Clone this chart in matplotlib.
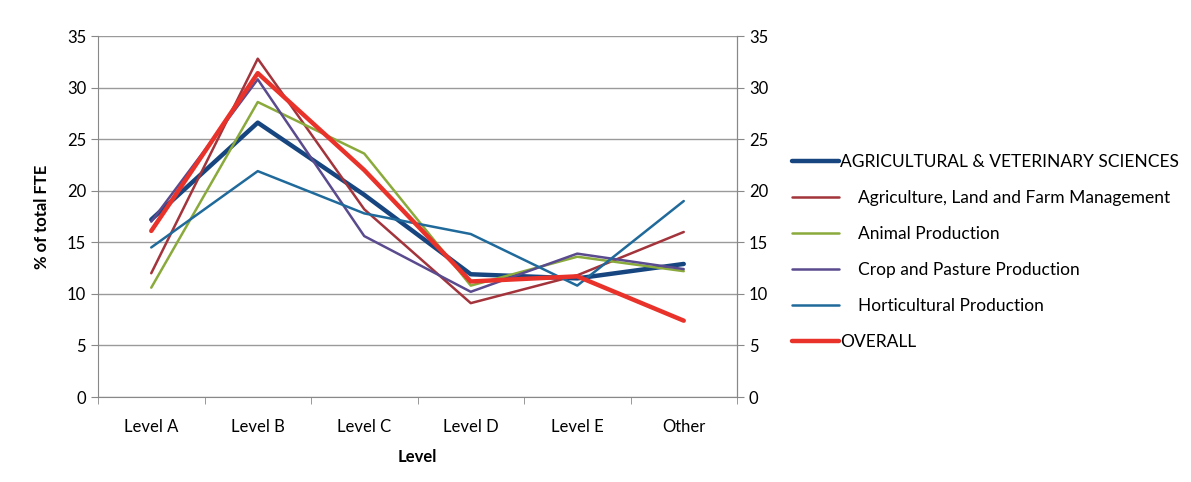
import matplotlib
matplotlib.use('Agg')
import matplotlib.pyplot as plt
import numpy as np

levels = ['Level A', 'Level B', 'Level C', 'Level D', 'Level E', 'Other']

ag_vet = [17.2, 26.6, 19.6, 11.9, 11.5, 12.9]
agri_land = [12.0, 32.8, 18.2, 9.1, 11.8, 16.0]
animal = [10.6, 28.6, 23.6, 10.8, 13.6, 12.2]
crop = [17.0, 30.8, 15.6, 10.2, 13.9, 12.4]
horti = [14.5, 21.9, 17.8, 15.8, 10.8, 19.0]
overall = [16.1, 31.4, 22.0, 11.2, 11.7, 7.4]

series_names = ['AGRICULTURAL & VETERINARY SCIENCES',
                '    Agriculture, Land and Farm Management',
                '    Animal Production',
                '    Crop and Pasture Production',
                '    Horticultural Production',
                'OVERALL']

plt.rcParams['font.family'] = ['Lato', 'DejaVu Sans']

fig = plt.figure(figsize=(11.91, 4.82), dpi=100)
ax = fig.add_axes([98 / 1191, 1 - 397 / 482, (737 - 98) / 1191, (397 - 36) / 482])

x = np.arange(len(levels))
styles = [('#17457f', 3.2), ('#a3343b', 1.8), ('#8aaa3c', 1.8),
          ('#5a4a8e', 1.8), ('#1f6a9b', 1.8), ('#e8322a', 3.2)]
data = [ag_vet, agri_land, animal, crop, horti, overall]
lines = []
for vals, (col, lw), name in zip(data, styles, series_names):
    ln, = ax.plot(x, vals, color=col, lw=lw, label=name, solid_capstyle='round')
    lines.append(ln)

ax.set_xlim(-0.5, len(levels) - 0.5)
ax.set_ylim(0, 35)
ax.set_yticks(range(0, 36, 5))
ax.set_xticks(x)
ax.set_xticklabels(levels, fontsize=12)
ax.set_xticks(np.arange(-0.5, len(levels), 1), minor=True)
ax.tick_params(axis='x', which='major', length=0, pad=16)
ax.tick_params(axis='x', which='minor', length=5, color='#888888')
ax.tick_params(axis='y', length=5, color='#888888', labelsize=12)
ax.grid(axis='y', color='#9a9a9a', lw=1)
ax.set_axisbelow(True)
for s in ['top']:
    ax.spines[s].set_visible(False)
for s in ['left', 'right', 'bottom']:
    ax.spines[s].set_color('#888888')

ax2 = ax.twinx()
ax2.set_ylim(0, 35)
ax2.set_yticks(range(0, 36, 5))
ax2.tick_params(axis='y', length=5, color='#888888', labelsize=12)
for s in ['top', 'left', 'bottom']:
    ax2.spines[s].set_visible(False)
ax2.spines['right'].set_color('#888888')

ax.set_ylabel('% of total FTE', fontsize=12, fontweight='bold', labelpad=12)
ax.set_xlabel('Level', fontsize=12, fontweight='bold', labelpad=10)

fig.legend(handles=lines, loc='center left', bbox_to_anchor=(776 / 1191, 1 - 252 / 482),
           frameon=False, fontsize=12.5, handlelength=2.7, handletextpad=0.1,
           labelspacing=1.15)

plt.savefig('out.png', dpi=100)
